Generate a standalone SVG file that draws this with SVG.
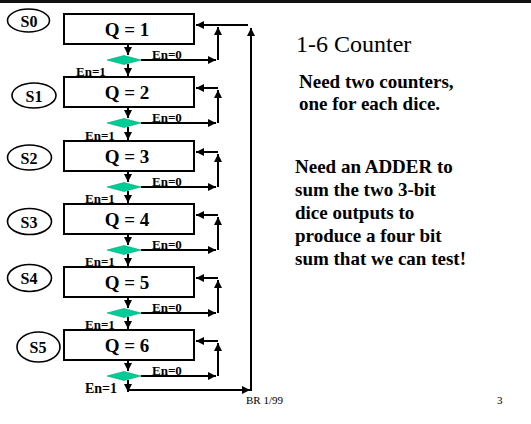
<svg xmlns="http://www.w3.org/2000/svg" width="531" height="424" viewBox="0 0 531 424">
<style>
.box{fill:#fff;stroke:#000;stroke-width:2}
.st{fill:#fff;stroke:#000;stroke-width:1.6}
.dia{fill:#00cc99;stroke:#0a6;stroke-width:0.6}
.ln{fill:none;stroke:#000;stroke-width:2}
.q{font-family:"Liberation Serif",serif;font-weight:bold;font-size:19px;text-anchor:middle}
.s{font-family:"Liberation Serif",serif;font-weight:bold;font-size:16px;text-anchor:middle}
.en{font-family:"Liberation Serif",serif;font-weight:bold;font-size:13px}
.t1{font-family:"Liberation Serif",serif;font-size:24px}
.tb{font-family:"Liberation Serif",serif;font-weight:bold;font-size:19px}
.ft{font-family:"Liberation Serif",serif;font-size:11px}
</style>
<defs>
<marker id="ah" markerUnits="userSpaceOnUse" markerWidth="9" markerHeight="9" refX="8" refY="4" orient="auto">
<path d="M0,0 L8,4 L0,8 z" fill="#000"/>
</marker>
</defs>
<rect x="0" y="0" width="531" height="424" fill="#fff"/>
<rect x="0" y="0" width="531" height="3" fill="#111"/>

<g id="connectors">
<!-- box 1 (T=14) -->
<path class="ln" d="M128,44 V55" marker-end="url(#ah)"/>
<path class="ln" d="M141,60 H216" marker-end="url(#ah)"/>
<path class="ln" d="M218,60 V27" marker-end="url(#ah)"/>
<path class="ln" d="M248,25 H196" marker-end="url(#ah)"/>
<path class="ln" d="M128,64 V76" marker-end="url(#ah)"/>
<!-- box 2 (T=77) -->
<path class="ln" d="M128,107 V118" marker-end="url(#ah)"/>
<path class="ln" d="M141,123 H216" marker-end="url(#ah)"/>
<path class="ln" d="M218,123 V90" marker-end="url(#ah)"/>
<path class="ln" d="M218,88 H196" marker-end="url(#ah)"/>
<path class="ln" d="M128,127 V140" marker-end="url(#ah)"/>
<!-- box 3 (T=141) -->
<path class="ln" d="M128,171 V182" marker-end="url(#ah)"/>
<path class="ln" d="M141,187 H216" marker-end="url(#ah)"/>
<path class="ln" d="M218,187 V154" marker-end="url(#ah)"/>
<path class="ln" d="M218,152 H196" marker-end="url(#ah)"/>
<path class="ln" d="M128,191 V203" marker-end="url(#ah)"/>
<!-- box 4 (T=204) -->
<path class="ln" d="M128,234 V245" marker-end="url(#ah)"/>
<path class="ln" d="M141,250 H216" marker-end="url(#ah)"/>
<path class="ln" d="M218,250 V217" marker-end="url(#ah)"/>
<path class="ln" d="M218,215 H196" marker-end="url(#ah)"/>
<path class="ln" d="M128,254 V266" marker-end="url(#ah)"/>
<!-- box 5 (T=267) -->
<path class="ln" d="M128,297 V308" marker-end="url(#ah)"/>
<path class="ln" d="M141,313 H216" marker-end="url(#ah)"/>
<path class="ln" d="M218,313 V280" marker-end="url(#ah)"/>
<path class="ln" d="M218,278 H196" marker-end="url(#ah)"/>
<path class="ln" d="M128,317 V329" marker-end="url(#ah)"/>
<!-- box 6 (T=330) -->
<path class="ln" d="M128,360 V371" marker-end="url(#ah)"/>
<path class="ln" d="M141,376 H216" marker-end="url(#ah)"/>
<path class="ln" d="M218,376 V343" marker-end="url(#ah)"/>
<path class="ln" d="M218,341 H196" marker-end="url(#ah)"/>
<path class="ln" d="M128,380 V392" marker-end="url(#ah)"/>
<!-- return loop -->
<path class="ln" d="M128,390 H250" marker-end="url(#ah)"/>
<path class="ln" d="M251,391 V28" marker-end="url(#ah)"/>
</g>

<g id="s0"><ellipse class="st" cx="28.5" cy="20.5" rx="21" ry="11.5"/><text class="s" x="29" y="26.5">S0</text></g>
<g id="s1"><ellipse class="st" cx="34" cy="95.5" rx="22" ry="12.5"/><text class="s" x="34" y="101.5">S1</text></g>
<g id="s2"><ellipse class="st" cx="29.5" cy="157.5" rx="22" ry="12.5"/><text class="s" x="29" y="163.5">S2</text></g>
<g id="s3"><ellipse class="st" cx="29.5" cy="221.5" rx="22" ry="13"/><text class="s" x="29" y="227.5">S3</text></g>
<g id="s4"><ellipse class="st" cx="29.5" cy="278" rx="22" ry="13.5"/><text class="s" x="29" y="284">S4</text></g>
<g id="s5"><ellipse class="st" cx="38.5" cy="347" rx="21.5" ry="15"/><text class="s" x="38" y="353">S5</text></g>

<g id="q1"><rect class="box" x="64" y="14" width="130" height="30"/><text class="q" x="127" y="36">Q = 1</text></g>
<g id="q2"><rect class="box" x="64" y="77" width="130" height="30"/><text class="q" x="127" y="99">Q = 2</text></g>
<g id="q3"><rect class="box" x="64" y="141" width="130" height="30"/><text class="q" x="127" y="163">Q = 3</text></g>
<g id="q4"><rect class="box" x="64" y="204" width="130" height="30"/><text class="q" x="127" y="226">Q = 4</text></g>
<g id="q5"><rect class="box" x="64" y="267" width="130" height="30"/><text class="q" x="127" y="289">Q = 5</text></g>
<g id="q6"><rect class="box" x="64" y="330" width="130" height="30"/><text class="q" x="127" y="352">Q = 6</text></g>

<g id="d1"><polygon class="dia" points="107,60 124,55.5 141,60 124,64.5"/></g>
<g id="d2"><polygon class="dia" points="107,123 124,118.5 141,123 124,127.5"/></g>
<g id="d3"><polygon class="dia" points="107,187 124,182.5 141,187 124,191.5"/></g>
<g id="d4"><polygon class="dia" points="107,250 124,245.5 141,250 124,254.5"/></g>
<g id="d5"><polygon class="dia" points="107,313 124,308.5 141,313 124,317.5"/></g>
<g id="d6"><polygon class="dia" points="107,376 124,371.5 141,376 124,380.5"/></g>

<g id="labels">
<text class="en" x="152" y="59">En=0</text>
<text class="en" x="152" y="122">En=0</text>
<text class="en" x="152" y="186">En=0</text>
<text class="en" x="152" y="249">En=0</text>
<text class="en" x="152" y="312">En=0</text>
<text class="en" x="152" y="375">En=0</text>
<text class="en" x="76" y="76">En=1</text>
<text class="en" x="85" y="140">En=1</text>
<text class="en" x="85" y="203">En=1</text>
<text class="en" x="85" y="266">En=1</text>
<text class="en" x="85" y="329">En=1</text>
<text class="en" x="85" y="393" style="font-size:14px">En=1</text>
</g>

<g id="text">
<text class="t1" x="296" y="52">1-6 Counter</text>
<text class="tb" x="299" y="88">Need two counters,</text>
<text class="tb" x="299" y="110">one for each dice.</text>
<text class="tb" x="295" y="173">Need an ADDER to</text>
<text class="tb" x="295" y="196">sum the two 3-bit</text>
<text class="tb" x="295" y="219">dice outputs to</text>
<text class="tb" x="295" y="242">produce a four bit</text>
<text class="tb" x="295" y="265">sum that we can test!</text>
<text class="ft" x="246" y="404">BR 1/99</text>
<text class="ft" x="497" y="404">3</text>
</g>
</svg>
